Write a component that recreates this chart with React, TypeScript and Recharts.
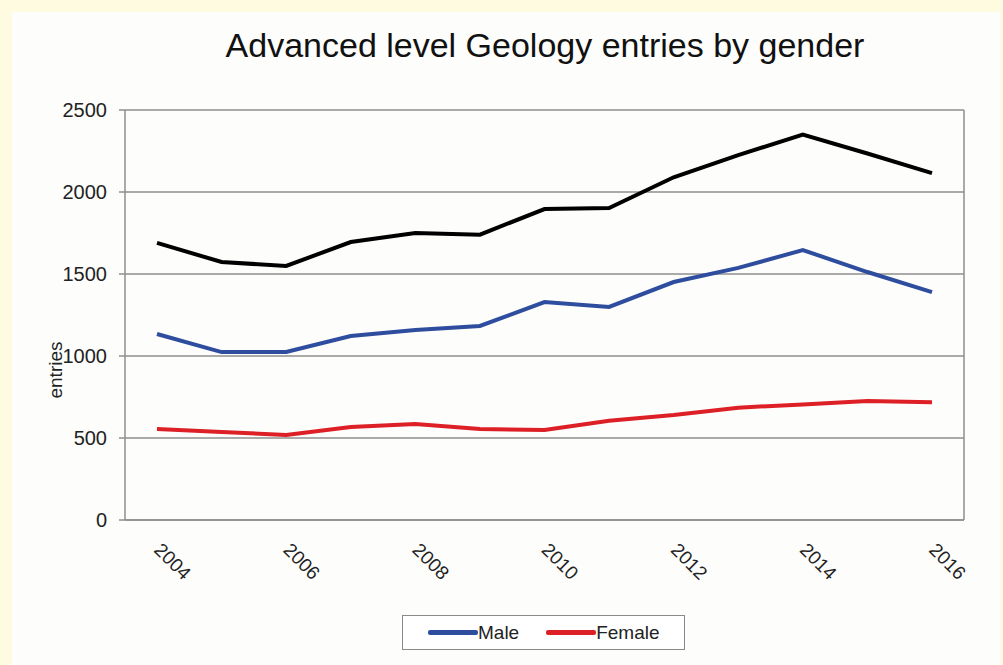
import React from "react";
import { CartesianGrid, Legend, Line, LineChart, XAxis, YAxis } from "recharts";

const years = ["2004", "2005", "2006", "2007", "2008", "2009", "2010", "2011", "2012", "2013", "2014", "2015", "2016"];
const total = [1690, 1573, 1549, 1695, 1750, 1740, 1896, 1902, 2090, 2225, 2350, 2235, 2115];
const male = [1134, 1024, 1024, 1122, 1159, 1183, 1329, 1299, 1451, 1537, 1646, 1512, 1390];
const female = [555, 537, 518, 567, 585, 555, 549, 605, 640, 685, 705, 725, 718];
const yTicks = [0, 500, 1000, 1500, 2000, 2500];

const data = years.map((year, i) => ({ year, Total: total[i], Male: male[i], Female: female[i] }));

const FONT = "'Liberation Sans', Arial, sans-serif";
const GRID = "#8e8e8e";
const BLUE = "#2f4d9e";
const RED = "#dd1f26";

const legendItems = [
    { name: "Male", color: BLUE },
    { name: "Female", color: RED },
];

function YearTick(props: any) {
    const { x, y, payload } = props;
    const ax = x - 4;
    const ay = y + 31;
    return (
        <text
            x={ax}
            y={ay}
            transform={`rotate(45, ${ax}, ${ay})`}
            textAnchor="start"
            fontFamily={FONT}
            fontSize={19}
            fill="#222"
        >
            {payload.value}
        </text>
    );
}

function LegendBox() {
    return (
        <div
            style={{
                width: 283,
                height: 35,
                border: "1.5px solid #8a8a8a",
                display: "flex",
                alignItems: "center",
                paddingLeft: 25,
                boxSizing: "border-box",
                fontFamily: FONT,
                fontSize: 19,
                color: "#222",
                background: "#fff",
            }}
        >
            {legendItems.map((it, i) => (
                <div key={it.name} style={{ display: "flex", alignItems: "center", marginRight: i === 0 ? 27 : 0 }}>
                    <span style={{ display: "inline-block", width: 50, height: 5, borderRadius: 2, background: it.color }} />
                    <span>{it.name}</span>
                </div>
            ))}
        </div>
    );
}

export default function App() {
    return (
        <div style={{ position: "absolute", left: 0, top: 0, width: 1003, height: 665, background: "#fffbe0", overflow: "hidden" }}>
            <div style={{ position: "absolute", left: 12, top: 12, width: 988, height: 653, background: "#fdfdfc" }}>
                <div
                    style={{
                        position: "absolute",
                        left: 133,
                        top: 14,
                        width: 800,
                        textAlign: "center",
                        whiteSpace: "nowrap",
                        fontFamily: FONT,
                        fontSize: 34,
                        color: "#111",
                        zIndex: 2,
                    }}
                >
                    Advanced level Geology entries by gender
                </div>
                <LineChart width={988} height={653} data={data} margin={{ top: 98, right: 35, bottom: 85, left: 43 }}>
                    <CartesianGrid vertical={false} stroke={GRID} strokeWidth={1.5} />
                    <XAxis
                        dataKey="year"
                        interval={1}
                        height={60}
                        padding={{ left: 32, right: 32 }}
                        tickLine={false}
                        tickSize={0}
                        tickMargin={0}
                        axisLine={{ stroke: GRID, strokeWidth: 1.5 }}
                        tick={<YearTick />}
                    />
                    <YAxis
                        domain={[0, 2500]}
                        ticks={yTicks}
                        width={70}
                        tickSize={6}
                        tickMargin={12}
                        axisLine={{ stroke: GRID, strokeWidth: 1.5 }}
                        tickLine={{ stroke: GRID, strokeWidth: 1.5 }}
                        tick={{ fontFamily: FONT, fontSize: 20, fill: "#222" }}
                        label={{
                            content: (p: any) => {
                                const vb = p.viewBox || {};
                                const cx = (vb.x ?? 43) + 0;
                                const cy = (vb.y ?? 98) + (vb.height ?? 410) / 2 + 55;
                                return (
                                    <text
                                        x={cx}
                                        y={cy}
                                        transform={`rotate(-90, ${cx}, ${cy})`}
                                        textAnchor="middle"
                                        dominantBaseline="central"
                                        fontFamily={FONT}
                                        fontSize={19}
                                        fill="#222"
                                    >
                                        entries
                                    </text>
                                );
                            },
                        }}
                    />
                    <YAxis
                        yAxisId="r"
                        orientation="right"
                        width={1}
                        domain={[0, 2500]}
                        tick={false}
                        tickLine={false}
                        axisLine={{ stroke: GRID, strokeWidth: 1.5 }}
                    />
                    <Legend
                        verticalAlign="middle"
                        align="center"
                        layout="horizontal"
                        wrapperStyle={{ position: "absolute", left: 390, top: 603, width: 283, height: 35 }}
                        content={() => <LegendBox />}
                    />
                    <Line type="linear" dataKey="Total" stroke="#000" strokeWidth={4} dot={false} isAnimationActive={false} />
                    <Line type="linear" dataKey="Male" stroke={BLUE} strokeWidth={4} dot={false} isAnimationActive={false} />
                    <Line type="linear" dataKey="Female" stroke={RED} strokeWidth={4} dot={false} isAnimationActive={false} />
                </LineChart>
            </div>
        </div>
    );
}
